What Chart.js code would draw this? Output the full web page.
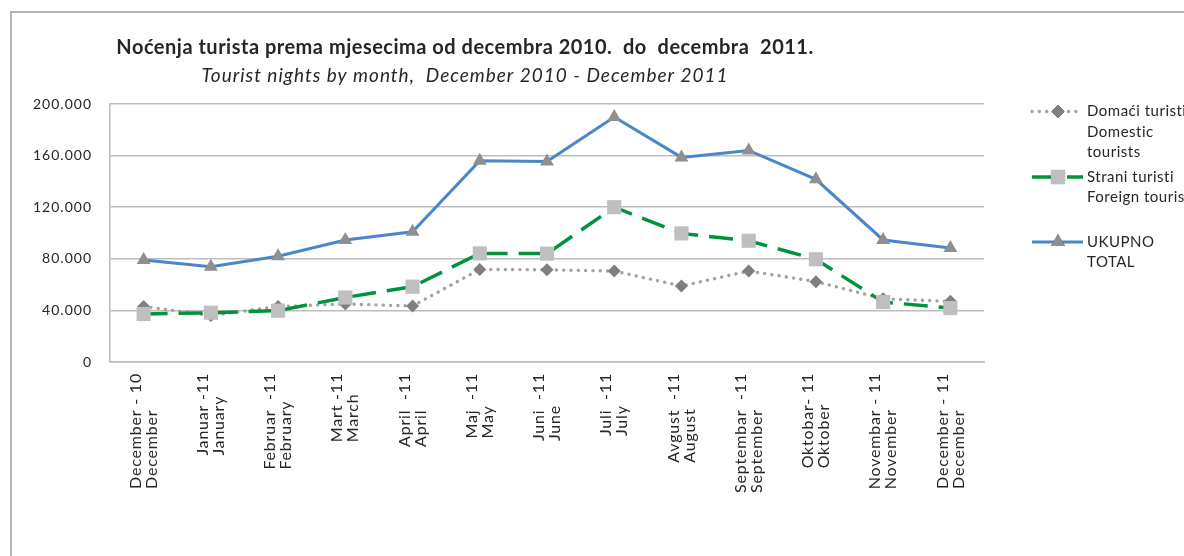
<!DOCTYPE html>
<html>
<head>
<meta charset="utf-8">
<title>Noćenja turista</title>
<script src="https://cdn.jsdelivr.net/npm/chart.js@4"></script>
<style>
  html, body { margin: 0; padding: 0; background: #fff; }
  #chart { display: block; }
</style>
</head>
<body>
<canvas id="chart" width="1184" height="556"></canvas>
<script>
// data
const monthsLocal = ['December - 10', 'Januar -11', 'Februar  -11', 'Mart -11', 'April  -11', 'Maj  -11', 'Juni  -11',
  'Juli  -11', 'Avgust  -11', 'Septembar  -11', 'Oktobar- 11', 'Novembar - 11', 'December - 11'];
const monthsEnglish = ['December', 'January', 'February', 'March', 'April', 'May', 'June',
  'July', 'August', 'September', 'Oktober', 'November', 'December'];

const domestic = [43000, 36000, 43000, 45000, 43400, 71800, 71500, 70500, 58900, 70500, 62300, 49000, 47000];
const foreign = [37200, 38200, 39800, 50000, 58400, 84200, 84000, 120000, 99700, 94000, 79600, 46500, 41800];
const total = [79000, 73900, 82000, 94600, 101000, 156000, 155500, 190000, 158600, 164000, 141600, 94600, 88400];

const yTicks = [0, 40000, 80000, 120000, 160000, 200000];

const seriesNames = [
  ['Domaći turisti', 'Domestic', 'tourists'],
  ['Strani turisti', 'Foreign tourists'],
  ['UKUPNO', 'TOTAL']
];

const titleText = 'Noćenja turista prema mjesecima od decembra 2010.  do  decembra  2011.';
const subtitleText = 'Tourist nights by month,  December 2010 - December 2011';

const fmt = (v) => String(v).replace(/\B(?=(\d{3})+(?!\d))/g, '.');

const GRID = '#bdbdbd';
const TEXT = '#262626';

// frame, titles, letter spacing for the axis labels
const framePlugin = {
  id: 'frame',
  beforeDraw(chart) {
    const ctx = chart.ctx;
    ctx.save();
    ctx.fillStyle = '#fff';
    ctx.fillRect(0, 0, chart.width, chart.height);
    ctx.strokeStyle = '#b4b4b4';
    ctx.lineWidth = 2;
    ctx.strokeRect(11, 12, 1400, 800);

    ctx.fillStyle = TEXT;
    ctx.textAlign = 'center';
    ctx.textBaseline = 'middle';
    ctx.letterSpacing = '0.5px';
    ctx.font = 'bold 20px Lato';
    ctx.fillText(titleText, 465, 48);
    ctx.letterSpacing = '1px';
    ctx.font = 'italic 19px Lato';
    ctx.fillText(subtitleText, 465, 76);
    ctx.restore();
    ctx.letterSpacing = '1px';
  },
  afterDraw(chart) {
    chart.ctx.letterSpacing = '0px';
  }
};

// two-line month labels, rotated, drawn at the category positions
const monthLabels = {
  id: 'monthLabels',
  afterDraw(chart) {
    const ctx = chart.ctx;
    const xs = chart.scales.x;
    ctx.save();
    ctx.letterSpacing = '0.8px';
    ctx.font = '16px Lato';
    ctx.fillStyle = TEXT;
    ctx.textAlign = 'left';
    ctx.textBaseline = 'middle';
    monthsLocal.forEach((m, i) => {
      const lines = [m, monthsEnglish[i]];
      const w = Math.max(...lines.map(l => ctx.measureText(l).width));
      const x = xs.getPixelForValue(i);
      ctx.save();
      ctx.translate(x, xs.top + 11 + w);
      ctx.rotate(-Math.PI / 2);
      lines.forEach((l, k) => ctx.fillText(l, 0, (k - 0.5) * 16));
      ctx.restore();
    });
    ctx.restore();
  }
};

// legend on the right with wrapped names
const sideLegend = {
  id: 'sideLegend',
  afterDraw(chart) {
    const ctx = chart.ctx;
    const rows = [111.5, 177, 242];
    ctx.save();
    ctx.letterSpacing = '0.5px';
    chart.data.datasets.forEach((ds, i) => {
      const y = rows[i];
      ctx.save();
      ctx.strokeStyle = ds.borderColor;
      ctx.lineWidth = ds.borderWidth;
      ctx.lineCap = ds.borderCapStyle || 'butt';
      ctx.setLineDash(ds.borderDash || []);
      ctx.beginPath();
      ctx.moveTo(1032, y);
      ctx.lineTo(1083, y);
      ctx.stroke();
      ctx.restore();
      Chart.helpers.drawPoint(ctx, {
        pointStyle: ds.pointStyle,
        radius: ds.pointRadius,
        rotation: 0,
        borderWidth: 0
      }, 1058, y);
      ctx.fillStyle = ds.pointBackgroundColor;
      ctx.fill();

      ctx.fillStyle = TEXT;
      ctx.font = '15px Lato';
      ctx.textAlign = 'left';
      ctx.textBaseline = 'middle';
      seriesNames[i].forEach((t, k) => ctx.fillText(t, 1087, y + k * 20.5));
    });
    ctx.restore();
  }
};

const ctx = document.getElementById('chart').getContext('2d');
new Chart(ctx, {
  type: 'line',
  data: {
    labels: monthsLocal,
    datasets: [
      {
        label: seriesNames[0].join(' '),
        data: domestic,
        order: 2,
        borderColor: '#a3a3a3',
        borderWidth: 3.4,
        borderDash: [0.1, 7.2],
        borderCapStyle: 'round',
        pointStyle: 'rectRot',
        pointRadius: 6.5,
        pointBackgroundColor: '#7f7f7f',
        pointBorderWidth: 0,
        tension: 0
      },
      {
        label: seriesNames[1].join(' '),
        data: foreign,
        order: 1,
        borderColor: '#00923f',
        borderWidth: 3.5,
        borderDash: [24, 11],
        borderCapStyle: 'butt',
        pointStyle: 'rect',
        pointRadius: 10,
        pointBackgroundColor: '#bfbfbf',
        pointBorderWidth: 0,
        tension: 0
      },
      {
        label: seriesNames[2].join(' '),
        data: total,
        order: 0,
        borderColor: '#4a87c9',
        borderWidth: 3,
        pointStyle: 'triangle',
        pointRadius: 8,
        pointBackgroundColor: '#8f8f8f',
        pointBorderWidth: 0,
        tension: 0
      }
    ]
  },
  options: {
    responsive: false,
    animation: false,
    devicePixelRatio: 1,
    layout: { padding: { top: 104, right: 200, left: 0, bottom: 0 } },
    plugins: {
      legend: { display: false },
      title: { display: false },
      tooltip: { enabled: false }
    },
    scales: {
      x: {
        offset: true,
        grid: { display: false, drawTicks: false },
        border: { display: true, color: GRID, width: 1.5 },
        ticks: { display: false },
        afterFit(scale) { scale.height = 194; }
      },
      y: {
        min: 0,
        max: 200000,
        afterBuildTicks(scale) { scale.ticks = yTicks.map(v => ({ value: v })); },
        grid: { color: GRID, lineWidth: 1.5, drawTicks: false },
        border: { display: true, color: GRID, width: 1.5 },
        ticks: {
          padding: 18,
          color: TEXT,
          font: { family: 'Lato', size: 14 },
          callback: (v) => fmt(v)
        },
        afterFit(scale) { scale.width = 110; }
      }
    }
  },
  plugins: [framePlugin, monthLabels, sideLegend]
});
</script>
</body>
</html>
